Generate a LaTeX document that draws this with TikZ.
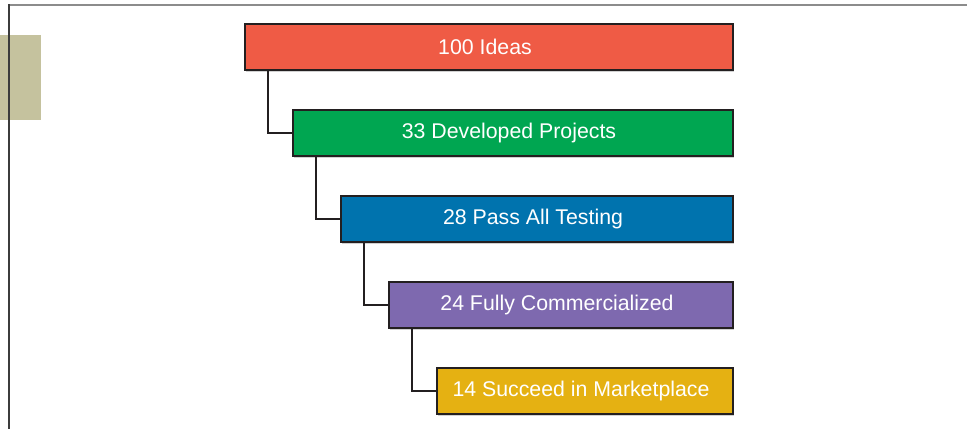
\documentclass[tikz,border=0pt]{standalone}
\usepackage{fontspec}
\setmainfont{Liberation Sans}
\usetikzlibrary{shadows}
\definecolor{cRed}{HTML}{EF5B45}
\definecolor{cGreen}{HTML}{00A651}
\definecolor{cBlue}{HTML}{0073AE}
\definecolor{cPurple}{HTML}{7E69AF}
\definecolor{cYellow}{HTML}{E5B112}
\definecolor{cTan}{HTML}{C5C29E}
\definecolor{cBorder}{HTML}{231F20}
\definecolor{cFrameTop}{HTML}{8C8C8C}
\definecolor{cFrameLeft}{HTML}{3C3C3C}
\tikzset{
  stagebox/.style={draw=cBorder, line width=2pt, anchor=north west,
    minimum height=46pt, inner sep=0pt, text=white,
    font=\fontsize{21.3}{25}\selectfont,
    drop shadow={shadow xshift=0.5pt, shadow yshift=-2pt, fill=black!18, opacity=1}},
  link/.style={draw=cBorder, line width=1.8pt}
}
\begin{document}
\begin{tikzpicture}[x=1pt,y=-1pt]
\useasboundingbox (0,0) rectangle (967,429);
\fill[cTan] (0,35) rectangle (41,120);
\draw[cFrameTop, line width=2pt] (9,5) -- (967,5);
\draw[cFrameLeft, line width=1.5pt] (9,4) -- (9,429);

\node[stagebox, fill=cRed, minimum width=488pt] (a) at (244,23) {100 Ideas\kern8pt};
\node[stagebox, fill=cGreen, minimum width=440pt] (b) at (292,109) {33 Developed Projects\kern8pt};
\node[stagebox, fill=cBlue, minimum width=392pt] (c) at (340,195) {28 Pass All Testing\kern8pt};
\node[stagebox, fill=cPurple, minimum width=344pt] (d) at (388,281) {24 Fully Commercialized\kern8pt};
\node[stagebox, fill=cYellow, minimum width=296pt] (e) at (436,367) {14 Succeed in Marketplace\kern8pt};

\draw[link] ([xshift=24pt]a.south west) |- (b.west);
\draw[link] ([xshift=24pt]b.south west) |- (c.west);
\draw[link] ([xshift=24pt]c.south west) |- (d.west);
\draw[link] ([xshift=24pt]d.south west) |- (e.west);
\end{tikzpicture}
\end{document}
